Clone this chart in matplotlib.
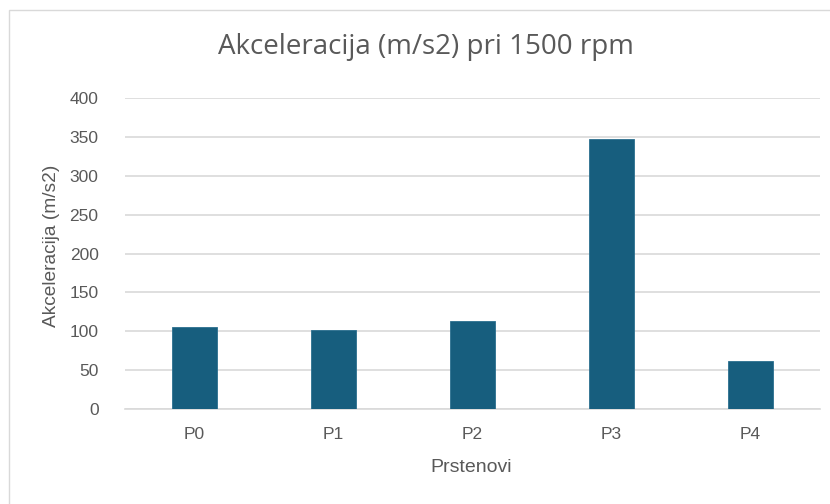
import matplotlib
matplotlib.use("Agg")
import matplotlib.pyplot as plt
from matplotlib.patches import Rectangle

categories = ["P0", "P1", "P2", "P3", "P4"]
values = [105.5, 101.7, 112.8, 347.8, 61.9]
yticks = [0, 50, 100, 150, 200, 250, 300, 350, 400]

title = "Akceleracija (m/s2) pri 1500 rpm"
xlabel = "Prstenovi"
ylabel = "Akceleracija (m/s2)"

W, H = 830, 504
fig = plt.figure(figsize=(W / 100, H / 100), dpi=100)
ax = fig.add_axes([125 / W, 1 - 409 / H, (820 - 125) / W, (409 - 98) / H])

text_col = "#595959"
bar_col = "#175E7E"
grid_col = "#D9D9D9"
font = ["Liberation Sans", "DejaVu Sans"]

x = range(len(categories))
ax.bar(x, values, width=0.32, color=bar_col, edgecolor="#2B6F8F", linewidth=0.6, zorder=3)
ax.set_xlim(-0.5, len(categories) - 0.5)
ax.set_ylim(0, 400)
ax.set_yticks(yticks)
ax.set_xticks(list(x))
ax.set_xticklabels(categories, fontfamily=font, fontsize=12.5, color=text_col)
ax.set_yticklabels([str(v) for v in yticks], fontfamily=font, fontsize=12.5, color=text_col)
ax.tick_params(axis="both", length=0)
ax.tick_params(axis="y", pad=19)
ax.tick_params(axis="x", pad=13)
ax.grid(axis="y", color=grid_col, linewidth=1.2, zorder=0)
for s in ["top", "right", "left"]:
    ax.spines[s].set_visible(False)
ax.spines["bottom"].set_color(grid_col)
ax.spines["bottom"].set_linewidth(1.2)

fig.text(425.5 / W, 1 - 47 / H, title, ha="center", va="center",
         fontfamily=["Open Sans", "DejaVu Sans"], fontsize=20, color=text_col)
fig.text(471.5 / W, 1 - 468 / H, xlabel, ha="center", va="center",
         fontfamily=font, fontsize=14, color=text_col)
fig.text(51 / W, 1 - 246 / H, ylabel, ha="center", va="center", rotation=90,
         fontfamily=font, fontsize=13.8, color=text_col)

fig.patches.append(Rectangle((8.5 / W, -0.1), 1.2, 1.1 - 10.5 / H,
                             transform=fig.transFigure, fill=False,
                             edgecolor="#D9D9D9", linewidth=1.0))

fig.savefig("out.png", dpi=100)
